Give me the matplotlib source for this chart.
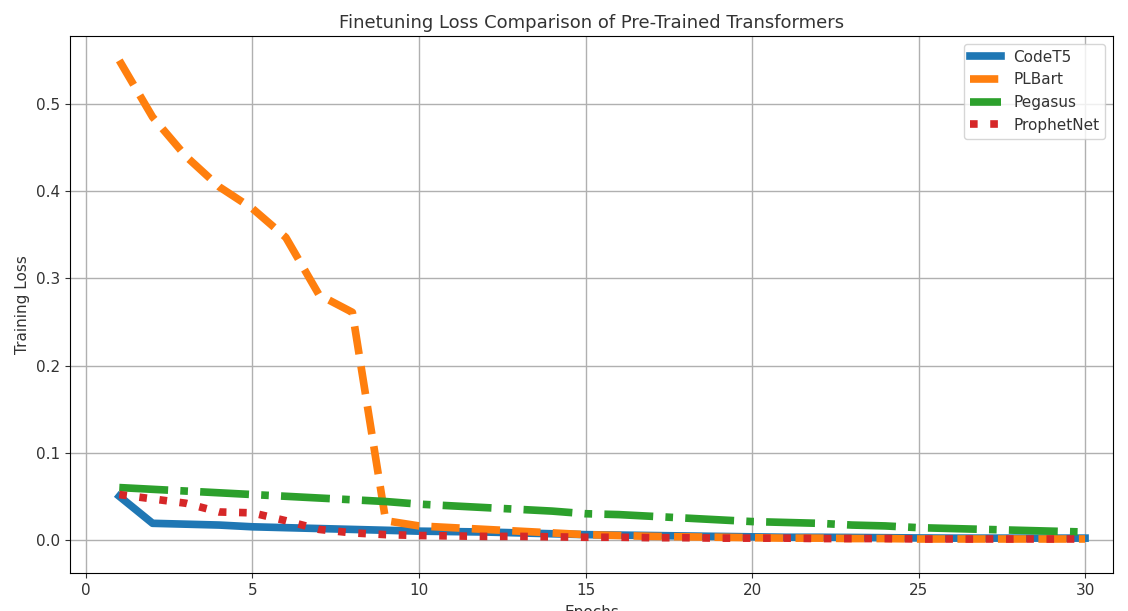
import numpy as np
import matplotlib.pyplot as plt

epochs = list(range(1, 31))

codet5 = [0.050, 0.019, 0.018, 0.017, 0.015, 0.014, 0.013, 0.012, 0.011, 0.010,
          0.0095, 0.009, 0.008, 0.007, 0.006, 0.0055, 0.005, 0.0045, 0.004, 0.0035,
          0.003, 0.003, 0.0028, 0.0025, 0.0022, 0.002, 0.002, 0.002, 0.002, 0.002]

plbart = [0.55, 0.485, 0.44, 0.405, 0.38, 0.347, 0.281, 0.261, 0.022, 0.016,
          0.014, 0.012, 0.010, 0.008, 0.006, 0.005, 0.004, 0.0035, 0.003, 0.0025,
          0.002, 0.002, 0.0015, 0.0015, 0.001, 0.001, 0.001, 0.001, 0.001, 0.001]

pegasus = [0.060, 0.058, 0.056, 0.054, 0.052, 0.050, 0.048, 0.046, 0.044, 0.041,
           0.039, 0.037, 0.035, 0.033, 0.030, 0.029, 0.027, 0.025, 0.023, 0.021,
           0.020, 0.019, 0.017, 0.016, 0.014, 0.013, 0.012, 0.011, 0.010, 0.009]

prophetnet = [0.052, 0.047, 0.042, 0.032, 0.031, 0.022, 0.012, 0.008, 0.006, 0.005,
              0.0045, 0.004, 0.004, 0.0035, 0.003, 0.003, 0.0025, 0.0025, 0.002, 0.002,
              0.002, 0.0015, 0.0015, 0.0015, 0.001, 0.001, 0.001, 0.001, 0.001, 0.001]

plt.rcParams['font.size'] = 11
plt.rcParams['text.color'] = '#333333'
plt.rcParams['axes.labelcolor'] = '#333333'
plt.rcParams['xtick.color'] = '#333333'
plt.rcParams['ytick.color'] = '#333333'

fig, ax = plt.subplots(figsize=(11.28, 6.11), dpi=100)
fig.subplots_adjust(left=70 / 1128, right=1113 / 1128, top=1 - 36 / 611, bottom=1 - 573 / 611)

ax.plot(epochs, codet5, '-', lw=5.5, color='tab:blue', label='CodeT5')
ax.plot(epochs, plbart, '--', lw=5.5, color='tab:orange', label='PLBart')
ax.plot(epochs, pegasus, '-.', lw=5.5, color='tab:green', label='Pegasus')
ax.plot(epochs, prophetnet, ':', lw=5.5, color='tab:red', label='ProphetNet')

ax.set_xlim(-0.48, 30.84)
ax.set_ylim(-0.038, 0.578)
ax.set_title('Finetuning Loss Comparison of Pre-Trained Transformers', fontsize=13)
ax.set_xlabel('Epochs', labelpad=5)
ax.set_ylabel('Training Loss')
ax.grid(True, lw=1)
ax.legend(loc='upper right')

fig.savefig('out.png', dpi=100)
